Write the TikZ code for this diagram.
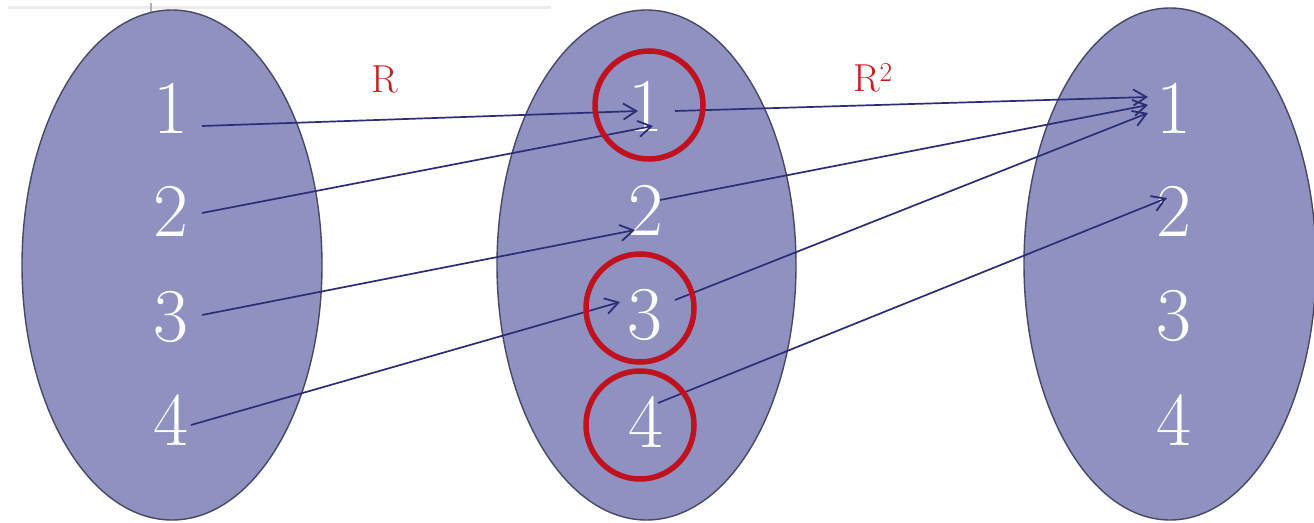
\documentclass[tikz,border=0pt]{standalone}
\usetikzlibrary{arrows.meta}
\definecolor{setfill}{RGB}{143,145,193}
\definecolor{setline}{RGB}{72,72,100}
\definecolor{arrcol}{RGB}{43,46,118}
\definecolor{redring}{RGB}{192,18,30}
\definecolor{lblred}{RGB}{200,30,30}
\tikzset{
  setshape/.style={fill=setfill, draw=setline, line width=1.4pt},
  elem/.style={text=white, inner sep=0pt, font=\fontsize{76}{76}\selectfont},
  rel/.style={draw=arrcol, line width=1.7pt, -{Straight Barb[length=13pt,width=16pt,line width=1.8pt]}},
  ring/.style={draw=redring, line width=5.5pt},
  lbl/.style={text=lblred, inner sep=0pt, font=\fontsize{39}{39}\selectfont}
}
\begin{document}
\begin{tikzpicture}[x=1pt,y=-1pt]
\useasboundingbox (0,0) rectangle (1314,522);
\clip (0,0) rectangle (1314,522);
\fill[white] (0,0) rectangle (1314,522);
% faint top line (screenshot edge)
\draw[black!8, line width=3pt] (8,7) -- (551,7);
\draw[black!30, line width=1.2pt] (151,3) -- (151,12);
% sets
\draw[setshape] (172,265) ellipse [x radius=150pt, y radius=255pt];
\draw[setshape] (646.5,265) ellipse [x radius=149.5pt, y radius=255pt];
\draw[setshape] (1170,264) ellipse [x radius=146pt, y radius=256pt];
% elements
\node[elem] (L1) at (171,108) {1};
\node[elem] (L2) at (171,211) {2};
\node[elem] (L3) at (171,317) {3};
\node[elem] (L4) at (171,420) {4};
\node[elem] (M1) at (646,106) {1};
\node[elem] (M2) at (646,210) {2};
\node[elem] (M3) at (645,315) {3};
\node[elem] (M4) at (646,422) {4};
\node[elem] (R1) at (1174,108) {1};
\node[elem] (R2) at (1174,211) {2};
\node[elem] (R3) at (1174,316) {3};
\node[elem] (R4) at (1174,420) {4};
% arrow end points near the elements
\coordinate (sL1) at (202,126);
\coordinate (sL2) at (202,213);
\coordinate (sL3) at (202,315);
\coordinate (sL4) at (191,425);
\coordinate (tM1a) at (638,111);
\coordinate (tM1b) at (653,126);
\coordinate (tM2) at (635,230);
\coordinate (tM3) at (620,302);
\coordinate (sM1) at (675,111);
\coordinate (sM2) at (660,200);
\coordinate (sM3) at (675,300);
\coordinate (sM4) at (658,403);
\coordinate (tR1a) at (1148,97);
\coordinate (tR1b) at (1148,105);
\coordinate (tR1c) at (1148,113);
\coordinate (tR2) at (1167,198);
% relation R
\draw[rel] (sL1) -- (tM1a);
\draw[rel] (sL2) -- (tM1b);
\draw[rel] (sL3) -- (tM2);
\draw[rel] (sL4) -- (tM3);
% relation R^2 part
\draw[rel] (sM1) -- (tR1a);
\draw[rel] (sM2) -- (tR1b);
\draw[rel] (sM3) -- (tR1c);
\draw[rel] (sM4) -- (tR2);
% red rings
\draw[ring] (649,105) circle [radius=54pt];
\draw[ring] (640,308) circle [radius=54pt];
\draw[ring] (640,425) circle [radius=54pt];
% labels
\node[lbl, anchor=base] (lblR) at (385,92) {R};
\node[lbl, anchor=base west] (lblR2) at (853,91) {R\textsuperscript{2}};
\end{tikzpicture}
\end{document}
